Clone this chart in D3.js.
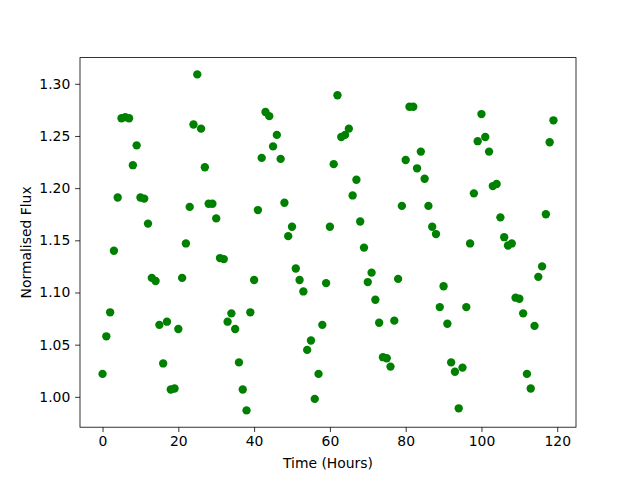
<!DOCTYPE html>
<html>
<head>
<meta charset="utf-8">
<script src="https://cdn.jsdelivr.net/npm/d3@7"></script>
<style>
  body { margin: 0; background: #fff; }
  text { font-family: "DejaVu Sans", sans-serif; }
</style>
</head>
<body>
<svg id="chart" width="640" height="480"></svg>
<script>
// hourly flux readings, hour 0..119
let flux = [
  1.022, 1.058, 1.081, 1.140, 1.191, 1.267, 1.268, 1.267, 1.222, 1.241,
  1.191, 1.190, 1.166, 1.114, 1.111, 1.069, 1.032, 1.072, 1.007, 1.008,
  1.065, 1.114, 1.147, 1.182, 1.261, 1.309, 1.257, 1.220, 1.185, 1.185,
  1.171, 1.133, 1.132, 1.072, 1.080, 1.065, 1.033, 1.007, 0.987, 1.081,
  1.112, 1.179, 1.229, 1.273, 1.269, 1.240, 1.251, 1.228, 1.186, 1.154,
  1.163, 1.123, 1.112, 1.101, 1.045, 1.054, 0.998, 1.022, 1.069, 1.109,
  1.163, 1.223, 1.289, 1.249, 1.251, 1.257, 1.193, 1.208, 1.168, 1.143,
  1.110, 1.119, 1.093, 1.071, 1.038, 1.037, 1.029, 1.073, 1.113, 1.183,
  1.227, 1.278, 1.278, 1.219, 1.235, 1.209, 1.183, 1.163, 1.156, 1.086,
  1.106, 1.070, 1.033, 1.024, 0.989, 1.028, 1.086, 1.147, 1.195, 1.245,
  1.271, 1.249, 1.235, 1.202, 1.204, 1.172, 1.153, 1.145, 1.147, 1.095,
  1.094, 1.080, 1.022, 1.008, 1.068, 1.115, 1.125, 1.175, 1.244, 1.265
];
let hours = flux.map((d, i) => i);
let xTicks = [0, 20, 40, 60, 80, 100, 120];
let yTicks = [1.00, 1.05, 1.10, 1.15, 1.20, 1.25, 1.30];

let svg = d3.select('#chart');
let plotLeft = 80, plotRight = 576, plotTop = 57.6, plotBottom = 427.2;

// matplotlib style 5% margins
function padded(ext) {
  let m = (ext[1] - ext[0]) * 0.05;
  return [ext[0] - m, ext[1] + m];
}

let x = d3.scaleLinear().domain(padded(d3.extent(hours))).range([plotLeft, plotRight]);
let y = d3.scaleLinear().domain(padded(d3.extent(flux))).range([plotBottom, plotTop]);

svg.append('rect')
  .attr('width', 640).attr('height', 480)
  .attr('fill', 'white');

svg.append('g')
  .selectAll('circle')
  .data(flux)
  .enter()
  .append('circle')
  .attr('cx', (d, i) => x(hours[i]))
  .attr('cy', d => y(d))
  .attr('r', 4.17)
  .attr('fill', '#008000');

let xAxis = d3.axisBottom(x).tickValues(xTicks).tickSize(4.86).tickPadding(4.2)
  .tickFormat(d3.format('d'));
let yAxis = d3.axisLeft(y).tickValues(yTicks).tickSize(4.86).tickPadding(4.86)
  .tickFormat(d3.format('.2f'));

let gx = svg.append('g').attr('transform', `translate(0,${plotBottom})`).call(xAxis);
let gy = svg.append('g').attr('transform', `translate(${plotLeft},0)`).call(yAxis);

[gx, gy].forEach(g => {
  g.select('.domain').remove();
  g.selectAll('.tick line').attr('stroke', 'black').attr('stroke-width', 0.8);
  g.selectAll('.tick text')
    .attr('fill', 'black')
    .style('font-family', '"DejaVu Sans", sans-serif')
    .style('font-size', '13.9px');
});

svg.append('rect')
  .attr('x', plotLeft).attr('y', plotTop)
  .attr('width', plotRight - plotLeft).attr('height', plotBottom - plotTop)
  .attr('fill', 'none')
  .attr('stroke', 'black')
  .attr('stroke-width', 0.8);

svg.append('text')
  .attr('x', (plotLeft + plotRight) / 2)
  .attr('y', 468)
  .attr('text-anchor', 'middle')
  .style('font-size', '13.9px')
  .text('Time (Hours)');

svg.append('text')
  .attr('transform', `translate(31,${(plotTop + plotBottom) / 2}) rotate(-90)`)
  .attr('text-anchor', 'middle')
  .style('font-size', '13.9px')
  .text('Normalised Flux');
</script>
</body>
</html>
